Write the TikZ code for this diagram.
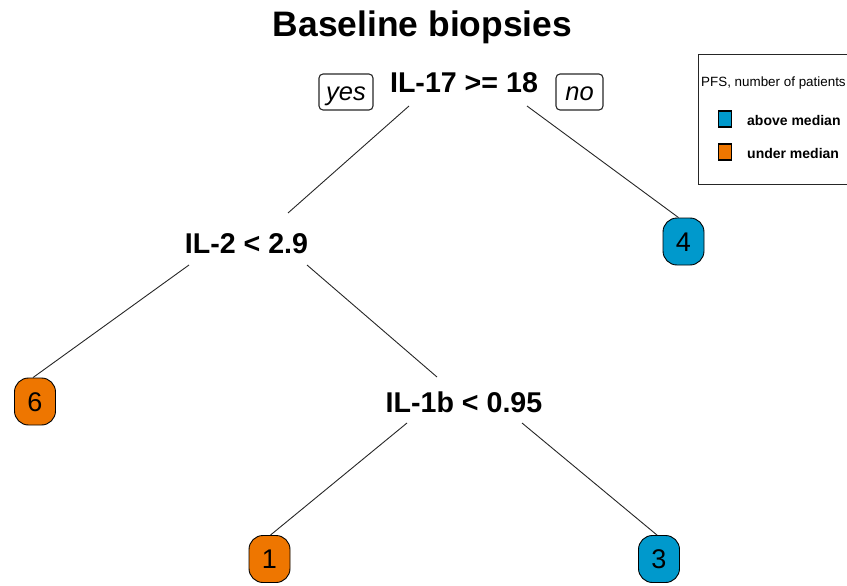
\documentclass[tikz,border=0pt]{standalone}
\usepackage{fontspec}
\setmainfont{Liberation Sans}
\definecolor{pfsblue}{RGB}{0,153,204}
\definecolor{pfsorange}{RGB}{238,118,0}
\begin{document}
\begin{tikzpicture}[x=1pt,y=-1pt,
  titlestyle/.style={font=\fontsize{35.4}{38}\selectfont\bfseries, anchor=base, inner sep=0pt},
  split/.style={font=\fontsize{28.6}{30}\selectfont\bfseries, anchor=base, inner sep=0pt},
  leaf/.style={draw=black, line width=0.9pt, rounded corners=14pt, minimum width=41pt,
    minimum height=47pt, inner sep=0pt, text height=19.3pt, text depth=0pt,
    font=\fontsize{27}{28}\selectfont},
  branchlab/.style={draw=black!85, line width=1.1pt, rounded corners=4pt, minimum height=36pt,
    inner sep=0pt, text height=16pt, text depth=0pt, font=\fontsize{25.5}{26}\selectfont\itshape},
  edge/.style={draw=black!85, line width=0.9pt},
  keybox/.style={draw=black, line width=1.2pt, minimum width=13pt, minimum height=16pt, inner sep=0pt},
  keytext/.style={anchor=base west, inner sep=0pt, font=\fontsize{14}{15}\selectfont\bfseries}]
\useasboundingbox (0,0) rectangle (847,586);

% title
\node[titlestyle] (title) at (422.5,37) {Baseline biopsies};

% split labels
\node[split] (root) at (464,93) {IL-17 >= 18};
\node[split] (il2) at (246.5,253) {IL-2 < 2.9};
\node[split] (il1b) at (464,412) {IL-1b < 0.95};

% branch direction labels
\node[branchlab, minimum width=54pt] (yes) at (346,92) {yes};
\node[branchlab, minimum width=47pt] (no) at (579.5,92) {no};

% leaves
\node[leaf, fill=pfsblue] (n4) at (683.5,241.5) {4};
\node[leaf, fill=pfsorange] (n6) at (35,401.5) {6};
\node[leaf, fill=pfsorange] (n1) at (269.5,559) {1};
\node[leaf, fill=pfsblue] (n3) at (659,559) {3};

% branch end points below / above the split labels
\coordinate (rootL) at (409,106);
\coordinate (rootR) at (527,106);
\coordinate (il2T) at (288,213);
\coordinate (il2L) at (189,265);
\coordinate (il2R) at (307,265);
\coordinate (il1bT) at (437,377);
\coordinate (il1bL) at (407,423);
\coordinate (il1bR) at (522,423);

% branches
\draw[edge] (rootL) -- (il2T);
\draw[edge] (rootR) -- ([xshift=-5pt]n4.north);
\draw[edge] (il2L) -- ([xshift=-2pt]n6.north);
\draw[edge] (il2R) -- (il1bT);
\draw[edge] (il1bL) -- ([xshift=1pt]n1.north);
\draw[edge] (il1bR) -- ([xshift=-2pt]n3.north);

% legend
\node[draw=black!85, line width=1.2pt, anchor=north west, minimum width=170pt,
  minimum height=130pt, inner sep=0pt] (legend) at (698,54) {};
\node[anchor=base west, inner sep=0pt, font=\fontsize{13.4}{14}\selectfont] (legtitle) at (701,87) {PFS, number of patients};
\node[keybox, fill=pfsblue] (keyA) at (725,119) {};
\node[keybox, fill=pfsorange] (keyB) at (725,152) {};
\node[keytext] (keyAtext) at (747,125) {above median};
\node[keytext] (keyBtext) at (747,158) {under median};
\end{tikzpicture}
\end{document}
